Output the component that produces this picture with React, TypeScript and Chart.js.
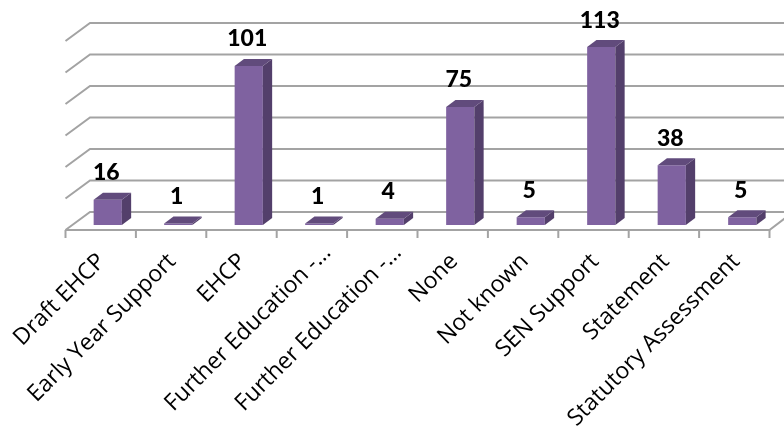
import React, { useEffect, useRef } from "react";
import { Chart, registerables } from "chart.js";

Chart.register(...registerables);

const categories = [
  "Draft EHCP",
  "Early Year Support",
  "EHCP",
  "Further Education -…",
  "Further Education -…",
  "None",
  "Not known",
  "SEN Support",
  "Statement",
  "Statutory Assessment",
];
const pupilCounts = [16, 1, 101, 1, 4, 75, 5, 113, 38, 5];
const gridValues = [0, 20, 40, 60, 80, 100, 120];

const FRONT = "#7F62A0";
const SIDE = "#533F6B";
const TOP = "#614B7C";
const GRID = "#A3A3A3";
const LABEL_FONT = "23px 'Open Sans'";

// Offsets of the floor and back wall relative to the plane the bars stand in.
const FLOOR_DY = 5;
const WALL_DY = -13;
const FLOOR_DX = -7.5;
const WALL_DX = 17;
const BAR_DEPTH_X = 9.3;
const BAR_DEPTH_Y = 7;

const isShortened = (label: string) => label.endsWith("…");

const line = (ctx: CanvasRenderingContext2D, pts: number[][]) => {
  ctx.beginPath();
  pts.forEach(([x, y], i) => (i ? ctx.lineTo(x, y) : ctx.moveTo(x, y)));
  ctx.stroke();
};

const perspectivePlugin = {
  id: "perspective",
  beforeDatasetsDraw(chart: any) {
    const { ctx, scales } = chart;
    const xs = scales.x;
    const ys = scales.y;
    const step = xs.getPixelForValue(1) - xs.getPixelForValue(0);
    const left = xs.getPixelForValue(0) - step / 2 + 0.5;
    const right = xs.getPixelForValue(categories.length - 1) + step / 2 - 0.5;
    ctx.save();
    ctx.strokeStyle = GRID;
    ctx.lineWidth = 2;
    gridValues.forEach((v) => {
      const y = ys.getPixelForValue(v);
      line(ctx, [
        [left + FLOOR_DX, y + FLOOR_DY],
        [left + WALL_DX, y + WALL_DY],
        [chart.width + 2, y + WALL_DY],
      ]);
    });
    // Floor front edge, its right-hand return and the category tick marks.
    const y0 = ys.getPixelForValue(0);
    line(ctx, [
      [left + FLOOR_DX, y0 + FLOOR_DY],
      [right + FLOOR_DX, y0 + FLOOR_DY],
      [right + FLOOR_DX + 15, y0 + FLOOR_DY - 11.5],
    ]);
    const tickStep = (right - left) / categories.length;
    for (let i = 0; i <= categories.length; i++) {
      const x = left + FLOOR_DX + i * tickStep;
      line(ctx, [
        [x, y0 + FLOOR_DY],
        [x, y0 + FLOOR_DY + 8],
      ]);
    }
    ctx.restore();
  },
  afterDatasetsDraw(chart: any) {
    const { ctx, scales } = chart;
    const meta = chart.getDatasetMeta(0);
    ctx.save();
    meta.data.forEach((bar: any, i: number) => {
      const l = bar.x - bar.width / 2;
      const r = bar.x + bar.width / 2;
      const t = bar.y;
      const b = bar.base;
      ctx.fillStyle = SIDE;
      ctx.beginPath();
      ctx.moveTo(r, t);
      ctx.lineTo(r + BAR_DEPTH_X, t - BAR_DEPTH_Y);
      ctx.lineTo(r + BAR_DEPTH_X, b - BAR_DEPTH_Y);
      ctx.lineTo(r, b);
      ctx.closePath();
      ctx.fill();
      ctx.fillStyle = TOP;
      ctx.beginPath();
      ctx.moveTo(l, t);
      ctx.lineTo(l + BAR_DEPTH_X, t - BAR_DEPTH_Y);
      ctx.lineTo(r + BAR_DEPTH_X, t - BAR_DEPTH_Y);
      ctx.lineTo(r, t);
      ctx.closePath();
      ctx.fill();
      // Value label above the bar.
      ctx.fillStyle = "#000";
      ctx.font = "900 23px Lato";
      ctx.textAlign = "center";
      ctx.textBaseline = "alphabetic";
      ctx.fillText(String(pupilCounts[i]), bar.x - 1.5, t - 19.5);
    });
    // Shortened category names sit further along the slant than the rest.
    categories.forEach((label, i) => {
      if (!isShortened(label)) return;
      ctx.save();
      ctx.translate(scales.x.getPixelForValue(i) + 8, 249);
      ctx.rotate(-Math.PI / 4);
      ctx.font = LABEL_FONT;
      ctx.fillStyle = "#000";
      ctx.textAlign = "right";
      ctx.textBaseline = "middle";
      ctx.fillText(label, 0, 0);
      ctx.restore();
    });
    ctx.restore();
  },
};

export default function App() {
  const ref = useRef<HTMLCanvasElement>(null);
  useEffect(() => {
    document.body.style.margin = "0";
    document.body.style.background = "#fff";
    const chart = new Chart(ref.current!, {
      type: "bar",
      data: {
        labels: categories,
        datasets: [
          {
            data: pupilCounts,
            backgroundColor: FRONT,
            borderWidth: 0,
            categoryPercentage: 1,
            barPercentage: 0.4,
          },
        ],
      },
      options: {
        responsive: false,
        animation: false,
        layout: { padding: { left: 72.5, right: 6.5, top: 36, bottom: 0 } },
        plugins: { legend: { display: false }, tooltip: { enabled: false } },
        scales: {
          y: { display: false, min: 0, max: 120 },
          x: {
            grid: { display: false },
            border: { display: false },
            afterFit: (axis: any) => {
              axis.height = 205;
            },
            ticks: {
              autoSkip: false,
              minRotation: 45,
              maxRotation: 45,
              labelOffset: -6,
              padding: 15,
              color: "#000",
              font: { family: "'Open Sans'", size: 23 },
              callback: (_v: any, i: number) => (isShortened(categories[i]) ? "" : categories[i]),
            },
          },
        },
      },
      plugins: [perspectivePlugin],
    });
    return () => chart.destroy();
  }, []);
  return <canvas ref={ref} width={784} height={430} style={{ display: "block" }} />;
}
